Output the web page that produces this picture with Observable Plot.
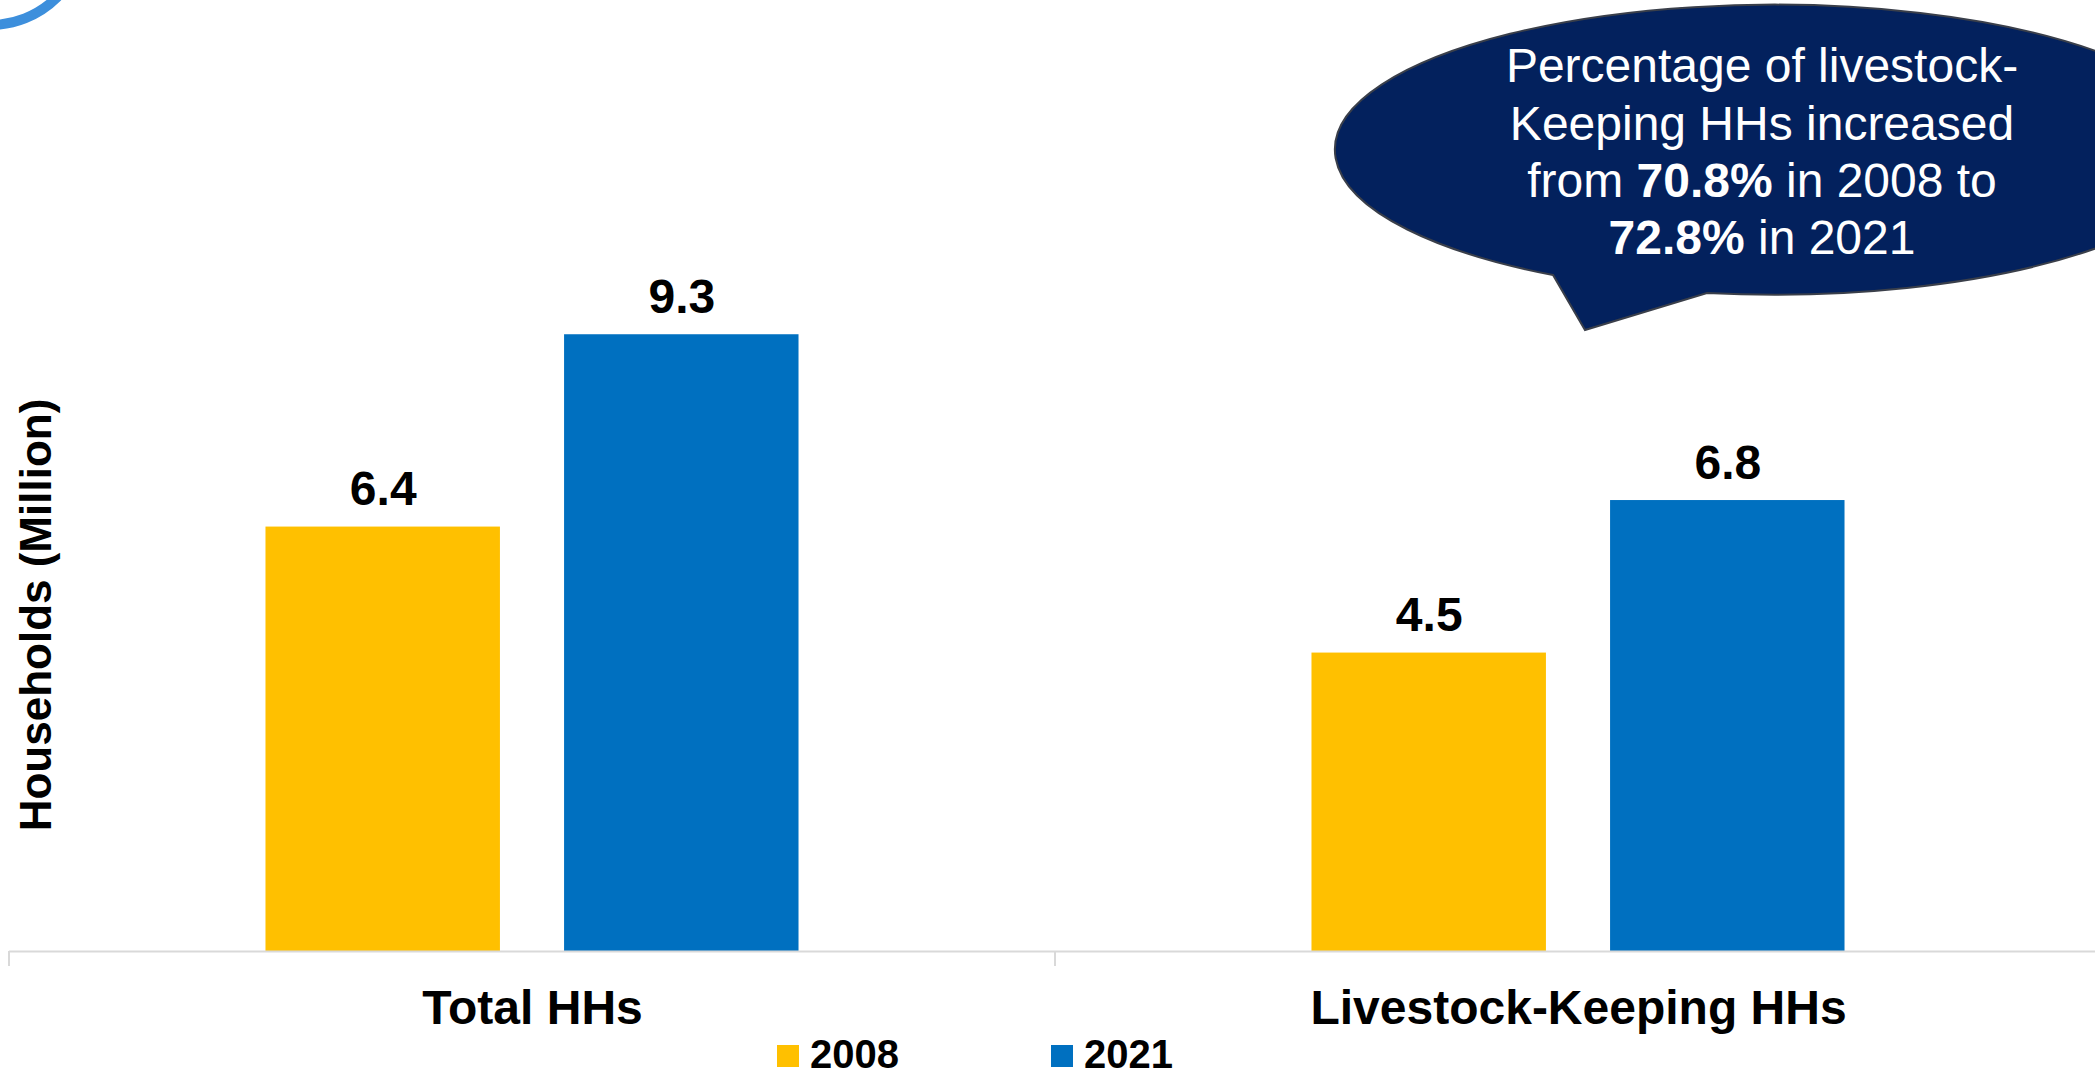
<!DOCTYPE html>
<html><head><meta charset="utf-8">
<script src="https://cdn.jsdelivr.net/npm/d3@7"></script>
<script src="https://cdn.jsdelivr.net/npm/@observablehq/plot@0.6"></script>
<style>
html,body{margin:0;padding:0;background:#fff;overflow:hidden;}
body{font-family:"Liberation Sans",Arial,sans-serif;}
#wrap{position:relative;width:2095px;height:1077px;}
#legend{display:flex;height:47px;padding-left:777px;box-sizing:border-box;}
.item{display:flex;align-items:flex-start;margin-right:152px;}
.sw{width:22px;height:22px;margin-top:15px;}
.lab{font-weight:bold;font-size:40px;line-height:40px;margin-top:4px;margin-left:11px;color:#000;}
</style></head><body><div id="wrap"></div>
<script>
const categories = ["Total HHs", "Livestock-Keeping HHs"];
const years = ["2008", "2021"];
const values2008 = [6.4, 4.5];
const values2021 = [9.3, 6.8];
const colors = ["#FFC000", "#0070C0"];
const yLabel = "Households (Million)";
const calloutLines = [
  [["Percentage of livestock-", false]],
  [["Keeping HHs increased", false]],
  [["from ", false], ["70.8%", true], [" in 2008 to", false]],
  [["72.8%", true], [" in 2021", false]]
];

const data = [];
categories.forEach((c, i) => {
  data.push({category: c, year: years[0], value: values2008[i]});
  data.push({category: c, year: years[1], value: values2021[i]});
});

const font = '"Liberation Sans", Arial, sans-serif';
const chart = Plot.plot({
  width: 2095, height: 1030,
  marginLeft: 9, marginRight: -6, marginTop: 0, marginBottom: 79,
  style: {fontFamily: font, color: "#000", background: "#fff", overflow: "visible"},
  fx: {domain: categories, paddingInner: 0, paddingOuter: 0, label: null},
  x: {domain: years, paddingInner: 0.2148, paddingOuter: 0.859, round: false, axis: null},
  y: {domain: [0, 14.34], axis: null},
  color: {domain: years, range: colors},
  marks: [
    Plot.barY(data, {fx: "category", x: "year", y: "value", fill: "year"}),
    Plot.ruleY([0], {stroke: "#d9d9d9", strokeWidth: 2}),
    Plot.text(data, {fx: "category", x: "year", y: "value", text: d => d.value.toFixed(1),
      lineAnchor: "bottom", dy: -22, fontSize: 48, fontWeight: "bold", fill: "#000"}),
    Plot.text([yLabel], {fx: () => categories[0], text: d => d, frameAnchor: "left", rotate: -90,
      textAnchor: "middle", lineAnchor: "middle",
      dx: 27, dy: 139, fontSize: 44, fontWeight: "bold", fill: "#000"}),
    Plot.axisFx({anchor: "bottom", tickSize: 0, tickPadding: 38, fontSize: 48, fontWeight: "bold", label: null, fill: "#000"})
  ]
});

document.getElementById("wrap").appendChild(chart);

const svg = d3.select(chart);
const fxs = chart.scale("fx");
const ys = chart.scale("y");
const y0 = ys.apply(0);
// category separator ticks
categories.forEach(c => {
  const x = fxs.apply(c);
  svg.append("line").attr("x1", x).attr("x2", x).attr("y1", y0).attr("y2", y0 + 15)
    .attr("stroke", "#d9d9d9").attr("stroke-width", 2);
});

// decorative arc top-left
svg.append("circle").attr("cx", -10).attr("cy", -70).attr("r", 95)
  .attr("fill", "none").attr("stroke", "#3d8fdc").attr("stroke-width", 10);

// callout bubble
const rx = 439, ry = 145;
svg.append("path")
  .attr("d", `M1553,275 A${rx},${ry} 0 1 1 1707,293 L1585,330 Z`)
  .attr("fill", "#03215d").attr("stroke", "#3a3f4a").attr("stroke-width", 2);
const baselines = [82, 140, 197, 254];
calloutLines.forEach((line, i) => {
  const t = svg.append("text").attr("x", 1762).attr("y", baselines[i])
    .attr("text-anchor", "middle").attr("fill", "#fff")
    .style("font-family", font).style("font-size", "48px").style("white-space", "pre");
  line.forEach(([s, b]) => {
    t.append("tspan").text(s).style("font-weight", b ? "bold" : "normal");
  });
});

// legend from color scale
const cs = chart.scale("color");
const legend = document.createElement("div");
legend.id = "legend";
cs.domain.forEach((d, i) => {
  const item = document.createElement("div");
  item.className = "item";
  const sw = document.createElement("div");
  sw.className = "sw";
  sw.style.background = cs.range[i];
  const lab = document.createElement("div");
  lab.className = "lab";
  lab.textContent = d;
  item.appendChild(sw);
  item.appendChild(lab);
  legend.appendChild(item);
});
document.getElementById("wrap").appendChild(legend);
</script>
</body></html>
